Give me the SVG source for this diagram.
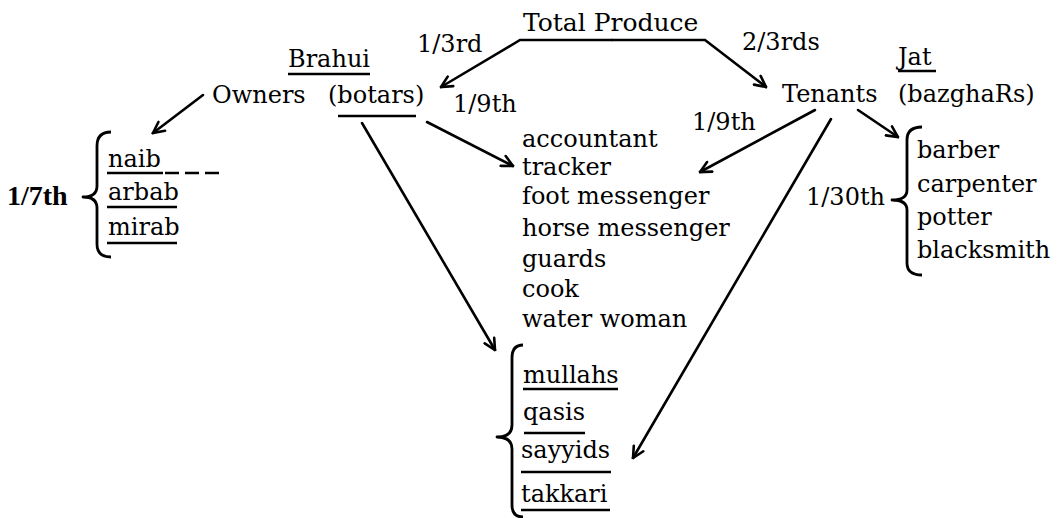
<svg xmlns="http://www.w3.org/2000/svg" width="1064" height="518" viewBox="0 0 1064 518">
<style>
text{font-family:"DejaVu Serif","Liberation Serif",serif;font-size:24px;fill:#000}
.b{font-family:"Liberation Serif","DejaVu Serif",serif;font-weight:bold;font-size:28px}
.ln{fill:none;stroke:#000;stroke-width:2.6;stroke-linecap:round}
.ul{fill:none;stroke:#000;stroke-width:2.6}
.br{fill:none;stroke:#000;stroke-width:2.8;stroke-linejoin:round}
.arr{marker-end:url(#ah)}
</style>
<defs>
<marker id="ah" viewBox="0 0 14 14" refX="12.5" refY="7" markerWidth="14" markerHeight="14" markerUnits="userSpaceOnUse" orient="auto">
<path d="M1.5,1.5 L12.5,7 L1.5,12.5" fill="none" stroke="#000" stroke-width="2.6" stroke-linecap="round" stroke-linejoin="miter"/>
</marker>
</defs>
<rect width="1064" height="518" fill="#fff"/>

<g id="connectors">
<path class="ln arr" d="M612,40 H520 L441,87"/>
<path class="ln arr" d="M612,40 H705 L766,87"/>
<path class="ln arr" d="M203,95 L153,133"/>
<path class="ln arr" d="M427,122 L513,166"/>
<path class="ln arr" d="M362,123 L495,350"/>
<path class="ln arr" d="M815,110 L700,172"/>
<path class="ln arr" d="M831,119 L633,458"/>
<path class="ln arr" d="M858,110 L898,137"/>
<text x="417" y="52">1/3rd</text>
<text x="742" y="50">2/3rds</text>
<text x="453" y="112">1/9th</text>
<text x="692" y="130">1/9th</text>
</g>

<g id="total-produce">
<text x="523" y="31" style="font-size:25px">Total Produce</text>
</g>

<g id="owners">
<text x="288" y="67">Brahui</text>
<line class="ul" x1="288" y1="74" x2="370" y2="74"/>
<text x="212" y="103">Owners</text>
<text x="328" y="103">(botars)</text>
<line class="ul" x1="338" y1="116" x2="416" y2="116"/>
</g>

<g id="tenants">
<text x="898" y="65">Jat</text>
<line class="ul" x1="898" y1="71" x2="936" y2="71"/>
<text x="782" y="102">Tenants</text>
<text x="898" y="102">(bazghaRs)</text>
</g>

<g id="officials">
<text class="b" x="7" y="205">1/7th</text>
<path class="br" d="M111,132 Q97,132 97,146 L97,186 Q97,197 83,197 Q97,197 97,208 L97,244 Q97,257 111,257"/>
<text x="108" y="167">naib</text>
<line class="ul" x1="107" y1="173" x2="163" y2="173"/>
<line class="ul" x1="165" y1="173" x2="225" y2="173" stroke-dasharray="14 6"/>
<text x="108" y="200">arbab</text>
<line class="ul" x1="107" y1="207" x2="177" y2="207"/>
<text x="108" y="235">mirab</text>
<line class="ul" x1="107" y1="243" x2="177" y2="243"/>
</g>

<g id="servants">
<text x="522" y="147">accountant</text>
<text x="522" y="175">tracker</text>
<text x="522" y="204">foot messenger</text>
<text x="522" y="236">horse messenger</text>
<text x="522" y="267">guards</text>
<text x="522" y="297">cook</text>
<text x="522" y="327">water woman</text>
</g>

<g id="religious">
<path class="br" d="M523,345 Q512,345 512,358 L512,425 Q512,437 497,437 Q512,437 512,449 L512,505 Q512,517 523,517"/>
<text x="523" y="383">mullahs</text>
<line class="ul" x1="523" y1="389" x2="618" y2="389"/>
<text x="523" y="420">qasis</text>
<line class="ul" x1="524" y1="433" x2="585" y2="433"/>
<text x="521" y="458">sayyids</text>
<line class="ul" x1="521" y1="472" x2="611" y2="472"/>
<text x="521" y="502">takkari</text>
<line class="ul" x1="521" y1="510" x2="610" y2="510"/>
</g>

<g id="artisans">
<text x="806" y="205">1/30th</text>
<path class="br" d="M922,127 Q907,127 907,140 L907,190 Q907,200 892,200 Q907,200 907,210 L907,263 Q907,275 922,275"/>
<text x="917" y="158">barber</text>
<text x="917" y="192">carpenter</text>
<text x="917" y="225">potter</text>
<text x="917" y="258">blacksmith</text>
</g>
</svg>
